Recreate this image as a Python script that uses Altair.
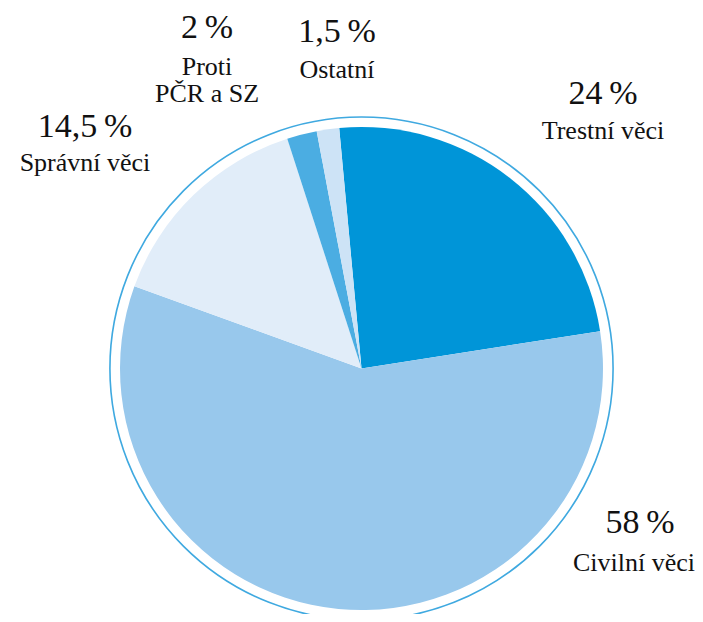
import math
import altair as alt
import pandas as pd

# ---- data ----
categories = ["Trestní věci", "Civilní věci", "Správní věci", "Proti PČR a SZ", "Ostatní"]
shares = [24, 58, 14.5, 2, 1.5]
pct_labels = ["24\u2009%", "58\u2009%", "14,5\u2009%", "2\u2009%", "1,5\u2009%"]
name_labels = ["Trestní věci", "Civilní věci", "Správní věci", "Proti\nPČR a SZ", "Ostatní"]
colors = ["#0095d8", "#98c8ec", "#e1edf9", "#4badE2", "#cde3f6"]

df = pd.DataFrame({
    "category": categories,
    "share": shares,
    "order": list(range(len(categories))),
    "pct": pct_labels,
    "name": name_labels,
})

# ---- layout ----
W, H = 687, 606
CX, CY = 353.5, 360.5
R_PIE = 241.5
R_RING = 251.5
start = math.radians(-5.3)
FONT = "Liberation Serif"

pie = alt.Chart(df).mark_arc(radius=R_PIE, stroke=None).encode(
    theta=alt.Theta("share:Q", stack=True,
                    scale=alt.Scale(range=[start, start + 2 * math.pi])),
    order=alt.Order("order:Q"),
    color=alt.Color("category:N", scale=alt.Scale(domain=categories, range=colors), legend=None),
    x=alt.value(CX),
    y=alt.value(CY),
)

ring = alt.Chart(pd.DataFrame({"k": [0]})).mark_arc(
    radius=R_RING, theta=0, theta2=2 * math.pi, filled=False,
    stroke="#3fa9e0", strokeWidth=1.6, fill=None,
).encode(x=alt.value(CX), y=alt.value(CY))

# label placement (view pixels): (pct_x, pct_y, name_x, name_y, name_align)
place = {
    "Trestní věci": (595, 86, 595, 123, "center"),
    "Civilní věci": (632, 515, 687, 555, "right"),
    "Správní věci": (77, 119, 77, 155, "center"),
    "Proti PČR a SZ": (199, 20, 199, 59, "center"),
    "Ostatní": (329, 24, 329, 62, "center"),
}

layers = [ring, pie]
for cat, (px, py, nx, ny, nalign) in place.items():
    base = alt.Chart(df).transform_filter(alt.datum.category == cat)
    layers.append(base.mark_text(
        x=px, y=py, font=FONT, fontSize=34, align="center", baseline="middle", color="#111111"
    ).encode(text="pct:N"))
    layers.append(base.mark_text(
        x=nx, y=ny, font=FONT, fontSize=26, align=nalign, baseline="middle",
        color="#111111", lineBreak="\n", lineHeight=27
    ).encode(text="name:N"))

chart = alt.layer(*layers).properties(
    width=W, height=H, padding=0, autosize=alt.AutoSizeParams(type="none")
).configure_view(stroke=None)

chart.save("out.html", embed_options={"renderer": "svg", "actions": False})
